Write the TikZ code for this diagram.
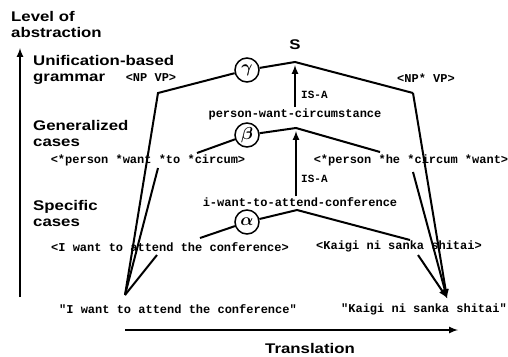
\documentclass[tikz,border=0pt]{standalone}
\usepackage{fontspec}
\newfontfamily\lblfont{Liberation Sans Bold}[FakeStretch=1.2]
\setmonofont{Liberation Mono}
\tikzset{lvl/.style={font=\lblfont\fontsize{14}{16.5}\selectfont,
   align=left,anchor=north west,inner sep=0pt},
 code/.style={font=\ttfamily\bfseries\fontsize{12}{12}\selectfont,inner sep=1pt},
 isa/.style={font=\ttfamily\bfseries\fontsize{11}{11}\selectfont,inner sep=1pt},
 tag/.style={draw,circle,line width=1.5pt,minimum size=24pt,inner sep=0pt,
   fill=white,font=\boldmath\fontsize{16}{16}\selectfont},
 leg/.style={line width=2pt},
 }

\begin{document}
\begin{tikzpicture}[x=1pt,y=-1pt]
    \useasboundingbox (0,0) rectangle (508,356);
    % levels
    \node[lvl] (lev) at (11,11) {Level of\\abstraction};
    \node[lvl] (ug) at (33,55) {Unification-based\\grammar};
    \node[lvl] (gc) at (33,120) {Generalized\\cases};
    \node[lvl] (sc) at (33,200) {Specific\\cases};
    \coordinate (ax0) at (20,297);
    \coordinate (ax1) at (20,48);
    \draw[leg,-latex] (ax0) -- (ax1);
    % texts
    \node[code] (np) at (151,78) {<NP VP>};
    \node[code] (npj) at (426,78) {<NP* VP>};
    \node[code] (pwc) at (295,114) {person-want-circumstance};
    \node[code] (gen1) at (148,160) {<*person *want *to *circum>};
    \node[code] (gen2) at (411,160) {<*person *he *circum *want>};
    \node[code] (iwc) at (300,202) {i-want-to-attend-conference};
    \node[code] (sp1) at (170,247) {<I want to attend the conference>};
    \node[code] (sp2) at (399,246) {<Kaigi ni sanka shitai>};
    \node[code] (src) at (178,309) {"I want to attend the conference"};
    \node[code] (tgt) at (424,309) {"Kaigi ni sanka shitai"};
    \node[font=\lblfont\fontsize{14}{14}\selectfont] (s) at (295,45) {S};
    % circles
    \node[tag] (gamma) at (247,70) {$\gamma$};
    \node[tag] (beta) at (247,135) {$\beta$};
    \node[tag] (alpha) at (247,222) {$\alpha$};
    % corners
    \coordinate (L) at (125,295);
    \coordinate (R) at (447,298);
    \coordinate (ga) at (295,62);
    \coordinate (gl) at (158,93);
    \coordinate (gr) at (413,93);
    \coordinate (ba) at (296,128);
    \coordinate (bl1) at (158,168);
    \coordinate (bl2) at (197,153);
    \coordinate (br1) at (380,152);
    \coordinate (br2) at (413,172);
    \coordinate (aa) at (297,210);
    \coordinate (al1) at (157,255);
    \coordinate (al2) at (200,238);
    \coordinate (ar1) at (410,240);
    \coordinate (ar2) at (418,255);
    % gamma
    \draw[leg] (L) -- (gl) -- (gamma) -- (ga) -- (gr);
    \draw[leg,-latex] (gr) -- (R);
    % beta
    \draw[leg] (L) -- (bl1);
    \draw[leg] (bl2) -- (beta) -- (ba) -- (br1);
    \draw[leg,-latex] (br2) -- (R);
    % alpha
    \draw[leg] (L) -- (al1);
    \draw[leg] (al2) -- (alpha) -- (aa) -- (ar1);
    \draw[leg,-latex] (ar2) -- (R);
    % is-a
    \draw[leg,-latex,shorten >=3pt] (pwc) -- (ga);
    \draw[leg,-latex,shorten >=3pt] (iwc.north -| ba) -- (ba);
    \node[isa,anchor=west] (isa1) at (300,95) {IS-A};
    \node[isa,anchor=west] (isa2) at (300,179) {IS-A};
    % translation
    \coordinate (tr0) at (125,330);
    \coordinate (tr1) at (458,330);
    \draw[leg,-latex] (tr0) -- (tr1);
    \node[font=\lblfont\fontsize{14}{14}\selectfont] (tr) at (310,348) {Translation};
\end{tikzpicture}
\end{document}
